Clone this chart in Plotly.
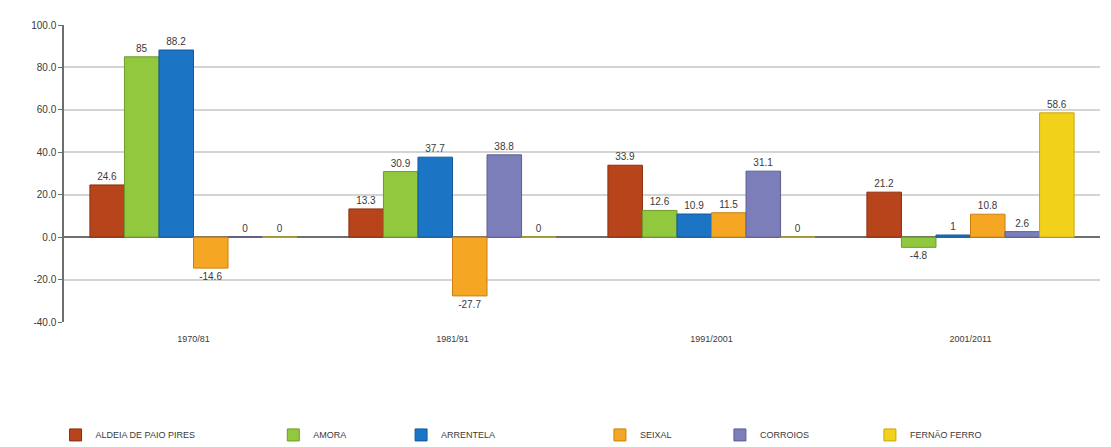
import plotly.graph_objects as go

# Intercensal periods
periods = ["1970/81", "1981/91", "1991/2001", "2001/2011"]

# Population change (%) per parish
aldeia = [24.6, 13.3, 33.9, 21.2]
amora = [85, 30.9, 12.6, -4.8]
arrentela = [88.2, 37.7, 10.9, 1]
seixal = [-14.6, -27.7, 11.5, 10.8]
corroios = [0, 38.8, 31.1, 2.6]
fernao_ferro = [0, 0, 0, 58.6]

# Value axis ticks
y_ticks = [-40, -20, 0, 20, 40, 60, 80, 100]

series_names = ["ALDEIA DE PAIO PIRES", "AMORA", "ARRENTELA", "SEIXAL",
                "CORROIOS", "FERNÃO FERRO"]
series_values = [aldeia, amora, arrentela, seixal, corroios, fernao_ferro]
series_colors = ["#B8441C", "#92C83E", "#1C74C4", "#F5A623", "#7C7EBA", "#F1D11A"]
series_edges = ["#8A2E10", "#6E9A2A", "#135A9A", "#C98010", "#5C5E94", "#C7A80E"]

# Legend slot left edges, as a fraction of the page width
legend_x = [0.050, 0.246, 0.361, 0.540, 0.648, 0.783]

fig = go.Figure()
layout_legends = {}
for i, (name, vals, col, edge) in enumerate(zip(series_names, series_values,
                                                 series_colors, series_edges)):
    key = "legend" if i == 0 else f"legend{i + 1}"
    fig.add_trace(go.Bar(
        x=periods, y=vals, name=name,
        text=[f"{v:g}" for v in vals],
        marker=dict(color=col, line=dict(color=edge, width=1)),
        texttemplate="%{text}", textposition="outside", cliponaxis=False,
        textfont=dict(size=10, color="#3a3a3a"),
        legend=key, showlegend=True,
    ))
    layout_legends[key] = dict(
        xref="container", yref="container",
        x=legend_x[i], y=0.027, xanchor="left", yanchor="middle",
        orientation="h", bgcolor="rgba(0,0,0,0)",
        font=dict(size=9, color="#3a3a3a"),
        itemwidth=30, visible=True,
    )

fig.update_layout(
    width=1111, height=447,
    margin=dict(l=64, r=11, t=25, b=125, autoexpand=False),
    paper_bgcolor="white", plot_bgcolor="white",
    font=dict(family="Liberation Sans, Arial, sans-serif", size=10, color="#3a3a3a"),
    barmode="group", bargap=0.2, bargroupgap=0,
    showlegend=True,
    uniformtext=dict(minsize=8, mode="show"),
    **layout_legends,
)

fig.update_xaxes(
    type="category", showgrid=False, ticks="", showline=False,
    tickfont=dict(size=9, color="#3a3a3a"), ticklabelstandoff=10,
)
fig.update_yaxes(
    range=[-40, 100], tickvals=y_ticks,
    ticktext=[f"{v:.1f}" for v in y_ticks],
    showgrid=True, gridcolor="#d4d4d4", gridwidth=1.5,
    zeroline=True, zerolinecolor="#6e6e6e", zerolinewidth=1.5,
    showline=True, linecolor="#6e6e6e", linewidth=1.5,
    ticks="outside", ticklen=4, tickcolor="#6e6e6e",
    tickfont=dict(size=10, color="#3a3a3a"),
)

fig.write_html("out.html")
